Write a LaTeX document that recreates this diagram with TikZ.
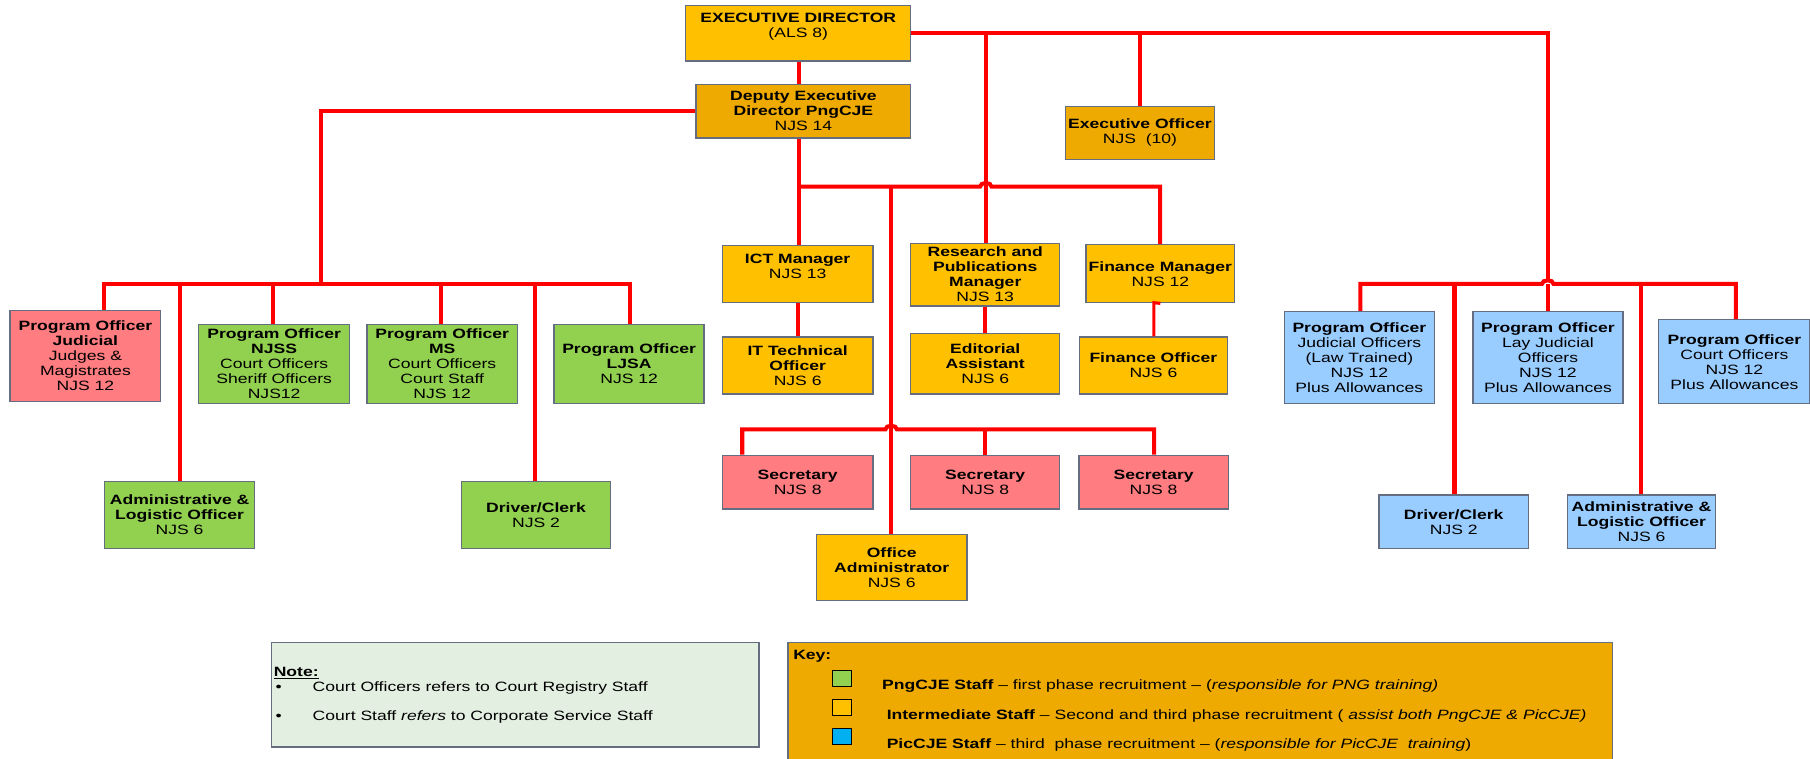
\documentclass[tikz,border=0pt]{standalone}
\usepackage{fontspec}
\setmainfont{Liberation Sans}[FakeStretch=1.3]
\definecolor{gold}{RGB}{255,192,0}
\definecolor{dgold}{RGB}{238,170,0}
\definecolor{pinkc}{RGB}{255,124,128}
\definecolor{greenc}{RGB}{146,208,80}
\definecolor{bluec}{RGB}{153,204,255}
\definecolor{notec}{RGB}{227,239,224}
\definecolor{edgec}{RGB}{100,110,128}
\definecolor{linec}{RGB}{255,0,0}
\definecolor{cyanc}{RGB}{0,176,240}
\tikzset{
  box/.style={draw=edgec, line width=1.2pt, inner sep=0pt, align=center,
    font=\fontsize{11.7}{13}\selectfont},
  wire/.style={draw=linec, line width=3.5pt, line join=miter},
  thinwire/.style={draw=linec, line width=2.7pt, line join=miter},
  txt/.style={inner sep=0pt, anchor=base west, font=\fontsize{11.7}{13}\selectfont},
  swatch/.style={draw=black, line width=0.9pt, inner sep=0pt, minimum width=16pt, minimum height=13.5pt}
}
\begin{document}
\begin{tikzpicture}[x=1pt,y=-1pt]
\useasboundingbox (0,0) rectangle (1568,657);
\fill[white] (0,0) rectangle (1568,657);

% ---------- boxes ----------
\node[box, fill=gold, minimum width=195pt, minimum height=48.5pt] (ed) at (691.5,28.75) {\textbf{EXECUTIVE DIRECTOR}\\(ALS 8)\\\mbox{}};
\node[box, fill=dgold, minimum width=186pt, minimum height=46.5pt] (dep) at (696,96.25) {\textbf{Deputy Executive}\\\textbf{Director PngCJE}\\NJS 14};
\node[box, fill=dgold, minimum width=129pt, minimum height=46pt] (eo) at (987.5,115) {\textbf{Executive Officer}\\NJS~~(10)};

\node[box, fill=pinkc, minimum width=130.6pt, minimum height=78.7pt] (poj) at (74,308.35) {\textbf{Program Officer}\\\textbf{Judicial}\\Judges \&\\Magistrates\\NJS 12};
\node[box, fill=greenc, minimum width=131pt, minimum height=68.7pt] (njss) at (237.5,315.35) {\textbf{Program Officer}\\\textbf{NJSS}\\Court Officers\\Sheriff Officers\\NJS12};
\node[box, fill=greenc, minimum width=130.6pt, minimum height=68.7pt] (ms) at (383.1,315.35) {\textbf{Program Officer}\\\textbf{MS}\\Court Officers\\Court Staff\\NJS 12};
\node[box, fill=greenc, minimum width=130pt, minimum height=68.7pt] (ljsa) at (545,315.35) {\textbf{Program Officer}\\\textbf{LJSA}\\NJS 12};
\node[box, fill=greenc, minimum width=130.2pt, minimum height=58.3pt] (alg) at (155.6,446.15) {\textbf{Administrative \&}\\\textbf{Logistic Officer}\\NJS 6};
\node[box, fill=greenc, minimum width=128.7pt, minimum height=58.3pt] (dcg) at (464.35,446.15) {\textbf{Driver/Clerk}\\NJS 2};

\node[box, fill=gold, minimum width=130.7pt, minimum height=49.4pt] (ict) at (691,237.5) {\textbf{ICT Manager}\\NJS 13\\\mbox{}};
\node[box, fill=gold, minimum width=130.7pt, minimum height=49.4pt] (itt) at (691,316.7) {\textbf{IT Technical}\\\textbf{Officer}\\NJS 6};
\node[box, fill=gold, minimum width=129pt, minimum height=54.2pt] (rpm) at (853.5,237.9) {\textbf{Research and}\\\textbf{Publications}\\\textbf{Manager}\\NJS 13};
\node[box, fill=gold, minimum width=129pt, minimum height=52.4pt] (edit) at (853.5,315.2) {\textbf{Editorial}\\\textbf{Assistant}\\NJS 6};
\node[box, fill=gold, minimum width=128.8pt, minimum height=50.2pt] (fm) at (1005.2,237.1) {\textbf{Finance Manager}\\NJS 12};
\node[box, fill=gold, minimum width=128.4pt, minimum height=49.4pt] (fo) at (999.2,316.7) {\textbf{Finance Officer}\\NJS 6};

\node[box, fill=pinkc, minimum width=130.7pt, minimum height=46.5pt] (sec1) at (691,417.75) {\textbf{Secretary}\\NJS 8};
\node[box, fill=pinkc, minimum width=129pt, minimum height=46.5pt] (sec2) at (853.5,417.75) {\textbf{Secretary}\\NJS 8};
\node[box, fill=pinkc, minimum width=129.3pt, minimum height=46.5pt] (sec3) at (999.35,417.75) {\textbf{Secretary}\\NJS 8};
\node[box, fill=gold, minimum width=130.3pt, minimum height=57.4pt] (oa) at (772.45,491.7) {\textbf{Office}\\\textbf{Administrator}\\NJS 6};

\node[box, fill=bluec, minimum width=130.2pt, minimum height=79.7pt] (pjo) at (1177.6,309.85) {\textbf{Program Officer}\\Judicial Officers\\(Law Trained)\\NJS 12\\Plus Allowances};
\node[box, fill=bluec, minimum width=130pt, minimum height=79.7pt] (play) at (1341,309.85) {\textbf{Program Officer}\\Lay Judicial\\Officers\\NJS 12\\Plus Allowances};
\node[box, fill=bluec, minimum width=131pt, minimum height=72.7pt] (pco) at (1502.5,313.35) {\textbf{Program Officer}\\Court Officers\\NJS 12\\Plus Allowances};
\node[box, fill=bluec, minimum width=129.7pt, minimum height=46.5pt] (dcb) at (1259.35,452.05) {\textbf{Driver/Clerk}\\NJS 2};
\node[box, fill=bluec, minimum width=128pt, minimum height=46.5pt] (alb) at (1422,452.05) {\textbf{Administrative \&}\\\textbf{Logistic Officer}\\NJS 6};

% ---------- connectors ----------
% Executive Director
\draw[wire] (ed.south -| 692,0) -- (692,0 |- dep.north);
\coordinate (bh) at (1340.8,243);
\draw[wire] (ed.east) -| (bh);
\coordinate (r0) at (854,28.75);
\draw[wire] (r0) -- (r0 |- rpm.north);
\coordinate (e0) at (987.6,28.75);
\draw[wire] (e0) -- (e0 |- eo.north);

% Deputy -> green group
\coordinate (gJ) at (278,246);
\draw[wire] (dep.west) -| (gJ);
\coordinate (g1) at (90.5,246);
\coordinate (g2) at (156,246);
\coordinate (g3) at (236.4,246);
\coordinate (g4) at (382,246);
\coordinate (g5) at (463.7,246);
\coordinate (g6) at (545.5,246);
\draw[wire] (g1 |- poj.north) -- (g1) -- (g6) -- (g6 |- ljsa.north);
\draw[wire] (g2) -- (g2 |- alg.north);
\draw[wire] (g3) -- (g3 |- njss.north);
\draw[wire] (g4) -- (g4 |- ms.north);
\draw[wire] (g5) -- (g5 |- dcg.north);

% Deputy -> middle group
\coordinate (i0) at (692,161.7);
\coordinate (i1) at (1005,161.7);
\draw[wire] (i0 |- dep.south) -- (i0 |- ict.north);
\draw[wire] (i0) -- (849,161.7) .. controls (849,157.5) and (859,157.5) .. (859,161.7) -- (i1) -- (i1 |- fm.north);
\coordinate (o0) at (772,161.7);
\draw[wire] (o0) -- (o0 |- oa.north);
\coordinate (s1) at (643,372);
\coordinate (s2) at (853.5,372);
\coordinate (s3) at (999.8,372);
\draw[wire] (s1 |- sec1.north) -- (s1) -- (767,372) .. controls (767,367.8) and (777,367.8) .. (777,372) -- (s3) -- (s3 |- sec3.north);
\draw[wire] (s2) -- (sec2.north);
\draw[wire] (ict.south) -- (itt.north);
\draw[wire] (rpm.south) -- (edit.north);
\coordinate (f1) at (999.6,262.2);
\draw[thinwire] (fm.south) -- (f1) -- (f1 |- fo.north);

% blue group
\coordinate (b1) at (1178.4,246);
\coordinate (b2) at (1260,246);
\coordinate (b3) at (1340.8,246);
\coordinate (b4) at (1421.3,246);
\coordinate (b5) at (1503.7,246);
\draw[wire] (b1 |- pjo.north) -- (b1) -- (1335.8,246) .. controls (1335.8,241.8) and (1345.8,241.8) .. (1345.8,246) -- (b5) -- (b5 |- pco.north);
\draw[wire] (b2) -- (b2 |- dcb.north);
\draw[wire] (b3) -- (b3 |- play.north);
\draw[wire] (b4) -- (b4 |- alb.north);

% ---------- note ----------
\node[draw=edgec, line width=1.2pt, fill=notec, minimum width=422.5pt, minimum height=90.5pt, inner sep=0pt] (note) at (446.25,601.75) {};
\node[txt] (notet) at (237,586.2) {\textbf{\underline{Note:}}};
\node[txt] (nb1) at (238.5,599.2) {•};
\node[txt] (nl1) at (270.7,599.2) {Court Officers refers to Court Registry Staff};
\node[txt] (nb2) at (238.5,624.3) {•};
\node[txt] (nl2) at (270.7,624.3) {Court Staff \textit{refers} to Corporate Service Staff};

% ---------- key ----------
\node[draw=edgec, line width=1.2pt, fill=dgold, minimum width=714.2pt, minimum height=108.5pt, inner sep=0pt] (key) at (1039.7,610.75) {};
\node[txt] (keyt) at (687,571.2) {\textbf{Key:}};
\node[swatch, fill=greenc] (sw1) at (729.3,587.7) {};
\node[swatch, fill=gold] (sw2) at (729.3,613) {};
\node[swatch, fill=cyanc] (sw3) at (729.3,638) {};
\node[txt] (k1) at (764,596.9) {\textbf{PngCJE Staff} – first phase recruitment – (\textit{responsible for PNG training)}};
\node[txt] (k2) at (768,622.9) {\textbf{Intermediate Staff} – Second and third phase recruitment ( \textit{assist both PngCJE \& PicCJE)}};
\node[txt] (k3) at (768,648.3) {\textbf{PicCJE Staff} – third~ phase recruitment – (\textit{responsible for PicCJE~ training})};
\end{tikzpicture}
\end{document}
